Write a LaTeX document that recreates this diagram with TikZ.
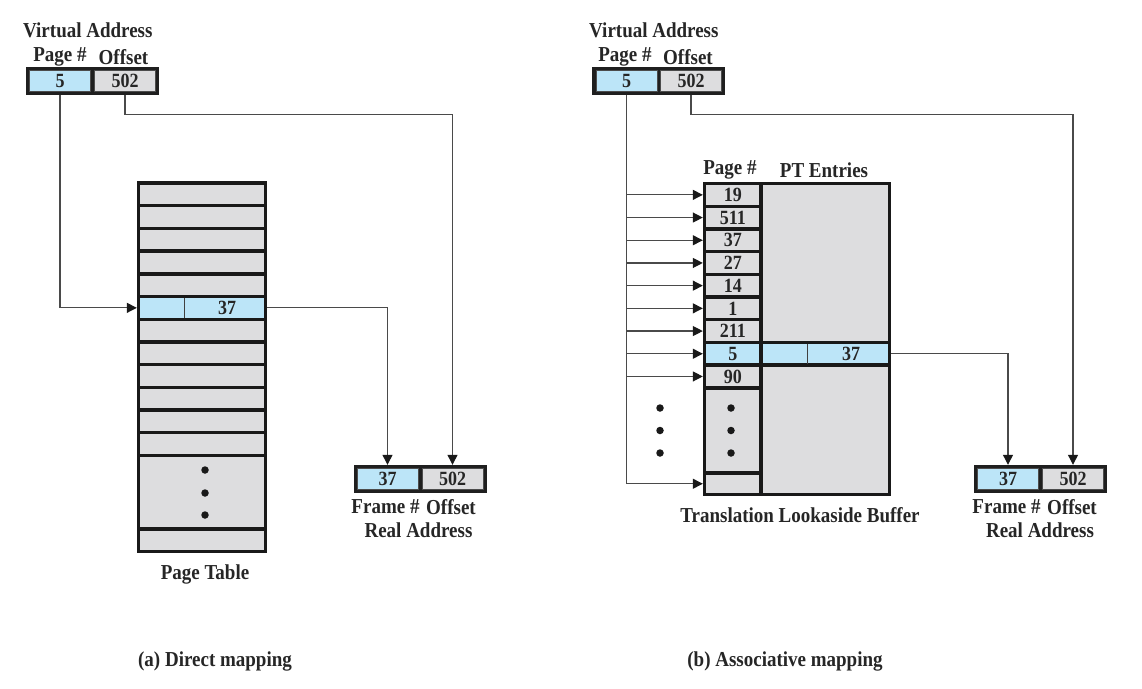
\documentclass[tikz,border=0pt]{standalone}
\usepackage{fontspec}
\setmainfont{Liberation Serif}
\usetikzlibrary{arrows.meta,calc}
\definecolor{cblue}{HTML}{BCE5F8}
\definecolor{cgray}{HTML}{DDDDDF}
\definecolor{cline}{HTML}{4A4A4A}
\definecolor{ctext}{HTML}{262626}
\newcommand{\tx}[1]{\scalebox{1}[1.12]{#1}}
\begin{document}
\begin{tikzpicture}[x=1pt,y=-1pt,
  lbl/.style={font=\fontsize{19}{19}\selectfont\bfseries, text=ctext, inner sep=0},
  nums/.style={font=\fontsize{18}{18}\selectfont\bfseries, text=ctext, inner sep=0},
  addrframe/.style={fill=black!88, draw=none, minimum width=133pt, minimum height=28pt, inner sep=0},
  vcell/.style={draw=black!70, line width=0.6pt, minimum width=61pt, minimum height=21pt, inner sep=0, nums},
  bcell/.style={vcell, fill=cblue},
  gcell/.style={vcell, fill=cgray},
  ptrow/.style={draw=black!90, line width=3.4pt, fill=cgray, minimum width=127pt, minimum height=22.7pt, inner sep=0},
  tcell/.style={draw=black!90, line width=3.4pt, fill=cgray, minimum width=56.5pt, minimum height=22.7pt, inner sep=0, nums},
  conn/.style={draw=cline, line width=1.2pt},
  arr/.style={conn, -{Triangle[length=10pt,width=10pt,fill=black!90,color=black!90]}},
  bullet/.style={circle, fill=black!90, inner sep=0, minimum size=7.5pt}
]
\useasboundingbox[fill=white] (0,0) rectangle (1142,688);

% ---------------- (a) Direct mapping ----------------
\node[lbl, anchor=west] (vaLt) at (23,30) {\tx{Virtual Address}};
\node[lbl] (vaLp) at (60,57) {\tx{Page \#}};
\node[lbl] (vaLo) at (123.5,57) {\tx{Offset}};
\node[addrframe] (vaL) at (92.5,80.5) {};
\node[bcell] (vaL1) at (60,80.5) {\tx{5}};
\node[gcell] (vaL2) at (125,80.5) {\tx{502}};

\foreach \i in {0,1,2,3,4,6,7,8,9,10,11}{
  \node[ptrow] (pt\i) at (202,{194.35+22.7*\i}) {};
}
\node[ptrow, fill=cblue] (pt5) at (202,307.85) {};
\draw[black!75, line width=1pt] (184,298) -- (184,317.7);
\node[nums] (pt5v) at (227,308) {\tx{37}};
\node[ptrow, minimum height=73.5pt] (ptd) at (202,492.25) {};
\node[ptrow, minimum height=22.5pt] (ptl) at (202,540.25) {};
\node[bullet] (ptd1) at (205,470) {};
\node[bullet] (ptd2) at (205,493) {};
\node[bullet] (ptd3) at (205,515) {};
\node[lbl] (ptt) at (205,574) {\tx{Page Table}};

\node[addrframe] (raL) at (420,479) {};
\node[bcell] (raL1) at (387.5,478.5) {\tx{37}};
\node[gcell] (raL2) at (452.5,478.5) {\tx{502}};
\node[lbl] (raLf) at (385.5,507) {\tx{Frame \#}};
\node[lbl] (raLo) at (451,507) {\tx{Offset}};
\node[lbl] (raLt) at (418.5,530) {\tx{Real Address}};

\draw[arr] (vaL1 |- vaL.south) |- (pt5.west);
\draw[arr] (vaL2 |- vaL.south) -- ++(0,19.5) -| (raL2 |- raL.north);
\draw[arr] (pt5.east) -| (raL1 |- raL.north);

\node[lbl] (capa) at (215,661) {\tx{(a) Direct mapping}};

% ---------------- (b) Associative mapping ----------------
\node[lbl, anchor=west] (vaRt) at (589,30) {\tx{Virtual Address}};
\node[lbl] (vaRp) at (625,57) {\tx{Page \#}};
\node[lbl] (vaRo) at (688,57) {\tx{Offset}};
\node[addrframe] (vaR) at (658.5,80.5) {};
\node[bcell] (vaR1) at (626.5,80.5) {\tx{5}};
\node[gcell] (vaR2) at (691,80.5) {\tx{502}};

\node[lbl] (tlbh1) at (730,170) {\tx{Page \#}};
\node[lbl] (tlbh2) at (824,170) {\tx{PT Entries}};
\node[draw=black!90, line width=3.4pt, fill=cgray, minimum width=185pt, minimum height=311pt, inner sep=0] (tlb) at (797,339) {};
\foreach \v [count=\i from 0] in {19,511,37,27,14,1,211}{
  \node[tcell] (tlb\i) at (732.75,{194.85+22.7*\i}) {\tx{\v}};
}
\node[draw=black!90, line width=3.4pt, fill=cblue, minimum width=185pt, minimum height=22.7pt, inner sep=0] (tlb7) at (797,353.75) {};
\node[tcell, fill=cblue] (tlb7p) at (732.75,353.75) {\tx{5}};
\draw[black!75, line width=1pt] (807,344) -- (807,363.5);
\node[nums] (tlb7v) at (851,354) {\tx{37}};
\node[tcell] (tlb8) at (732.75,376.45) {\tx{90}};
\node[tcell, minimum height=85.2pt] (tlbd) at (732.75,430.4) {};
\node[tcell, minimum height=21.5pt] (tlbl) at (732.75,483.75) {};
\node[bullet] (tlbd1) at (731,408) {};
\node[bullet] (tlbd2) at (731,430.5) {};
\node[bullet] (tlbd3) at (731,453) {};
\node[bullet] (ld1) at (660,408) {};
\node[bullet] (ld2) at (660,430.5) {};
\node[bullet] (ld3) at (660,453) {};
\node[lbl] (tlbt) at (800,515) {\tx{Translation Lookaside Buffer}};

\node[addrframe] (raR) at (1040.5,479) {};
\node[bcell] (raR1) at (1008,478.5) {\tx{37}};
\node[gcell] (raR2) at (1073,478.5) {\tx{502}};
\node[lbl] (raRf) at (1006.5,507) {\tx{Frame \#}};
\node[lbl] (raRo) at (1072,507) {\tx{Offset}};
\node[lbl] (raRt) at (1040,530) {\tx{Real Address}};

\draw[arr] (vaR1 |- vaR.south) |- (tlbl.west);
\foreach \n in {tlb0,tlb1,tlb2,tlb3,tlb4,tlb5,tlb6,tlb7p,tlb8}{
  \draw[arr] (vaR1 |- \n.west) -- (\n.west);
}
\draw[arr] (vaR2 |- vaR.south) -- ++(0,19.5) -| (raR2 |- raR.north);
\draw[arr] (tlb7.east) -| (raR1 |- raR.north);

\node[lbl] (capb) at (785,661) {\tx{(b) Associative mapping}};
\end{tikzpicture}
\end{document}
